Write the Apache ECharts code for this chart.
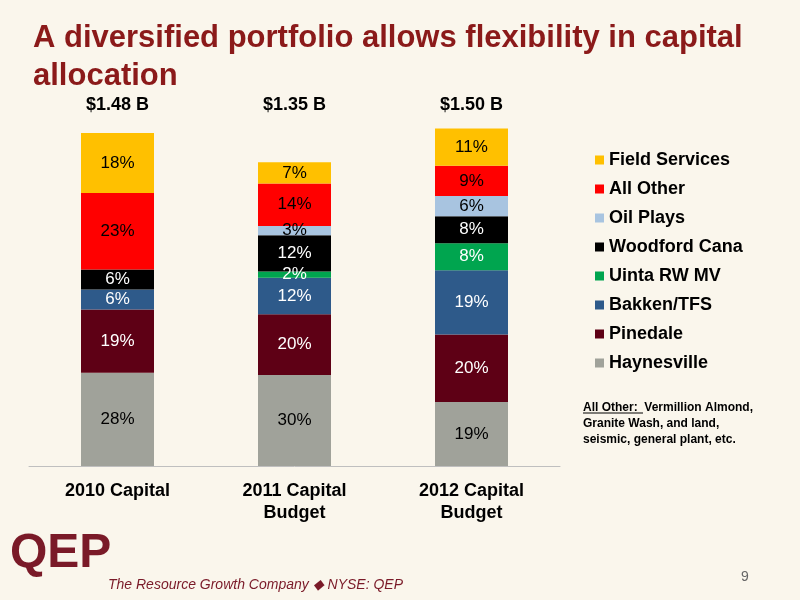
<!DOCTYPE html>
<html>
<head>
<meta charset="utf-8">
<script src="https://cdn.jsdelivr.net/npm/echarts@6/dist/echarts.min.js"></script>
<style>html,body{margin:0;padding:0;background:#FAF6EC;}#main{width:800px;height:600px;}</style>
</head>
<body>
<div id="main"></div>
<script>
var categories = ['2010 Capital', '2011 Capital\nBudget', '2012 Capital\nBudget'];
var totals = [1.48, 1.35, 1.50];
var totalLabels = ['$1.48 B', '$1.35 B', '$1.50 B'];
var seriesNames = ['Haynesville', 'Pinedale', 'Bakken/TFS', 'Uinta RW MV', 'Woodford Cana', 'Oil Plays', 'All Other', 'Field Services'];
var haynesville = [28, 30, 19];
var pinedale = [19, 20, 20];
var bakken = [6, 12, 19];
var uinta = [null, 2, 8];
var woodford = [6, 12, 8];
var oilPlays = [null, 3, 6];
var allOther = [23, 14, 9];
var fieldServices = [18, 7, 11];
var pctData = [haynesville, pinedale, bakken, uinta, woodford, oilPlays, allOther, fieldServices];
var colors = ['#A0A29A', '#5E0015', '#2E5A8A', '#00A54F', '#000000', '#A8C4E0', '#FF0000', '#FFC000'];
var labelColors = ['#000', '#fff', '#fff', '#fff', '#fff', '#000', '#000', '#000'];

var chart = echarts.init(document.getElementById('main'));
var series = seriesNames.map(function (name, i) {
  return {
    name: name,
    type: 'bar',
    stack: 'total',
    barWidth: 73,
    itemStyle: { color: colors[i] },
    label: {
      show: true,
      color: labelColors[i],
      fontSize: 17,
      fontFamily: 'Liberation Sans',
      formatter: function (p) { return p.data.pct + '%'; }
    },
    data: pctData[i].map(function (v, j) {
      return v == null ? null : { value: v * totals[j] / 100, pct: v };
    })
  };
});

chart.setOption({
  backgroundColor: '#FAF6EC',
  animation: false,
  title: {
    text: 'A diversified portfolio allows flexibility in capital\nallocation',
    left: 28, top: 14,
    textStyle: { color: '#8B1A1A', fontSize: 31, fontWeight: 'bold', fontFamily: 'Liberation Sans', lineHeight: 38 }
  },
  legend: {
    orient: 'vertical',
    left: 590, top: 146,
    itemWidth: 9, itemHeight: 9, itemGap: 11,
    icon: 'rect',
    data: seriesNames.slice().reverse(),
    textStyle: { fontSize: 18, fontWeight: 'bold', color: '#000', fontFamily: 'Liberation Sans' }
  },
  grid: { left: 29, right: 240, top: 106, bottom: 134 },
  xAxis: [{
    type: 'category',
    data: categories,
    axisTick: { show: false },
    axisLine: { lineStyle: { color: '#BFBFBF' } },
    axisLabel: { fontSize: 18, fontWeight: 'bold', color: '#000', fontFamily: 'Liberation Sans', margin: 14, lineHeight: 22 }
  }, {
    type: 'category',
    position: 'top',
    data: totalLabels,
    axisTick: { show: false },
    axisLine: { show: false },
    axisLabel: { fontSize: 18, fontWeight: 'bold', color: '#000', fontFamily: 'Liberation Sans', margin: -8 }
  }],
  yAxis: { type: 'value', min: 0, max: 1.6, show: false, splitLine: { show: false } },
  series: series,
  graphic: [{
    type: 'text', left: 583, top: 400,
    style: {
      text: 'All Other:  Vermillion Almond,\nGranite Wash, and land,\nseismic, general plant, etc.',
      font: 'bold 12px Liberation Sans', fill: '#000', lineHeight: 16
    }
  }, {
    type: 'line', shape: { x1: 583, y1: 413, x2: 643, y2: 413 },
    style: { stroke: '#000', lineWidth: 1 }
  }, {
    type: 'text', left: 10, top: 530,
    style: { text: 'QEP', font: 'bold 48px Liberation Sans', fill: '#7A1A28' }
  }, {
    type: 'text', left: 108, top: 578,
    style: { text: 'The Resource Growth Company \u25C6 NYSE: QEP', font: 'italic 14px Liberation Sans', fill: '#7A1A28' }
  }, {
    type: 'text', left: 741, top: 570,
    style: { text: '9', font: '14px Liberation Sans', fill: '#666' }
  }]
});
window.addEventListener('resize', chart.resize);
</script>
</body>
</html>
